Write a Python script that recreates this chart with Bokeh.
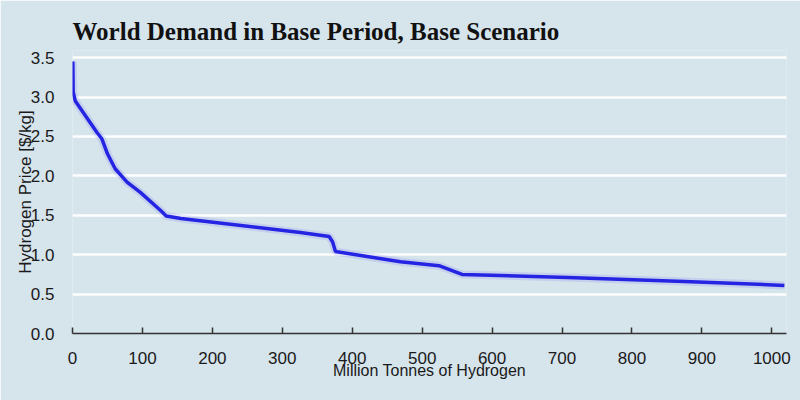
from bokeh.plotting import figure
from bokeh.models import FixedTicker, Range1d, PrintfTickFormatter
from bokeh.embed import file_html
from bokeh.resources import INLINE

title_text = "World Demand in Base Period, Base Scenario"
x_label = "Million Tonnes of Hydrogen"
y_label = "Hydrogen Price [$/kg]"

quantity = [0.5, 1, 4, 35, 42, 50, 61, 78, 97, 126, 134, 155, 326, 367, 372, 376,
            469, 524, 557, 612, 708, 875, 1018]
price = [3.45, 3.06, 2.95, 2.55, 2.47, 2.28, 2.09, 1.92, 1.79, 1.56, 1.49, 1.46, 1.28,
         1.23, 1.16, 1.04, 0.91, 0.86, 0.75, 0.735, 0.71, 0.66, 0.61]

x_ticks = [0, 100, 200, 300, 400, 500, 600, 700, 800, 900, 1000]
y_ticks = [0.0, 0.5, 1.0, 1.5, 2.0, 2.5, 3.0, 3.5]

bg = "#d6e4ec"

p = figure(width=800, height=400, output_backend="svg", toolbar_location=None,
           x_range=Range1d(0, 1021), y_range=Range1d(0, 3.59),
           background_fill_color=bg, border_fill_color=bg,
           min_border_left=72, min_border_right=14, min_border_top=50, min_border_bottom=67)
p.outline_line_color = None

p.title.text = title_text
p.title.text_font = "Liberation Serif"
p.title.text_font_style = "bold"
p.title.text_font_size = "25px"
p.title.text_color = "#111111"
p.title.align = "left"
p.title.standoff = 12

# grid
p.xgrid.grid_line_color = None
p.ygrid.ticker = FixedTicker(ticks=y_ticks)
p.ygrid.grid_line_color = "white"
p.ygrid.grid_line_width = 2.5
p.ygrid.grid_line_alpha = 0.95

# x axis
xa = p.xaxis[0]
xa.ticker = FixedTicker(ticks=x_ticks)
xa.axis_line_color = "#333333"
xa.axis_line_width = 1.5
xa.major_tick_in = 6
xa.major_tick_out = 0
xa.major_tick_line_color = "#333333"
xa.major_tick_line_width = 1.5
xa.minor_tick_line_color = None
xa.major_label_standoff = 18
xa.major_label_text_font = "Liberation Sans"
xa.major_label_text_font_size = "17px"
xa.major_label_text_color = "#1a1a1a"
xa.axis_label = x_label
xa.axis_label_text_font = "Liberation Sans"
xa.axis_label_text_font_size = "16px"
xa.axis_label_text_font_style = "normal"
xa.axis_label_text_color = "#1a1a1a"
xa.axis_label_standoff = -5

# y axis
ya = p.yaxis[0]
ya.ticker = FixedTicker(ticks=y_ticks)
ya.formatter = PrintfTickFormatter(format="%.1f")
ya.axis_line_color = None
ya.major_tick_line_color = None
ya.minor_tick_line_color = None
ya.major_label_standoff = 12
ya.major_label_text_font = "Liberation Sans"
ya.major_label_text_font_size = "17px"
ya.major_label_text_color = "#1a1a1a"
ya.axis_label = y_label
ya.axis_label_text_font = "Liberation Sans"
ya.axis_label_text_font_size = "17px"
ya.axis_label_text_font_style = "normal"
ya.axis_label_text_color = "#1a1a1a"
ya.axis_label_standoff = -7

p.line(quantity, price, line_color="#3a3af0", line_width=8, line_alpha=0.12)
p.line(quantity, price, line_color="#2424e2", line_width=3.5)

open("out.html", "w").write(file_html(p, INLINE))
